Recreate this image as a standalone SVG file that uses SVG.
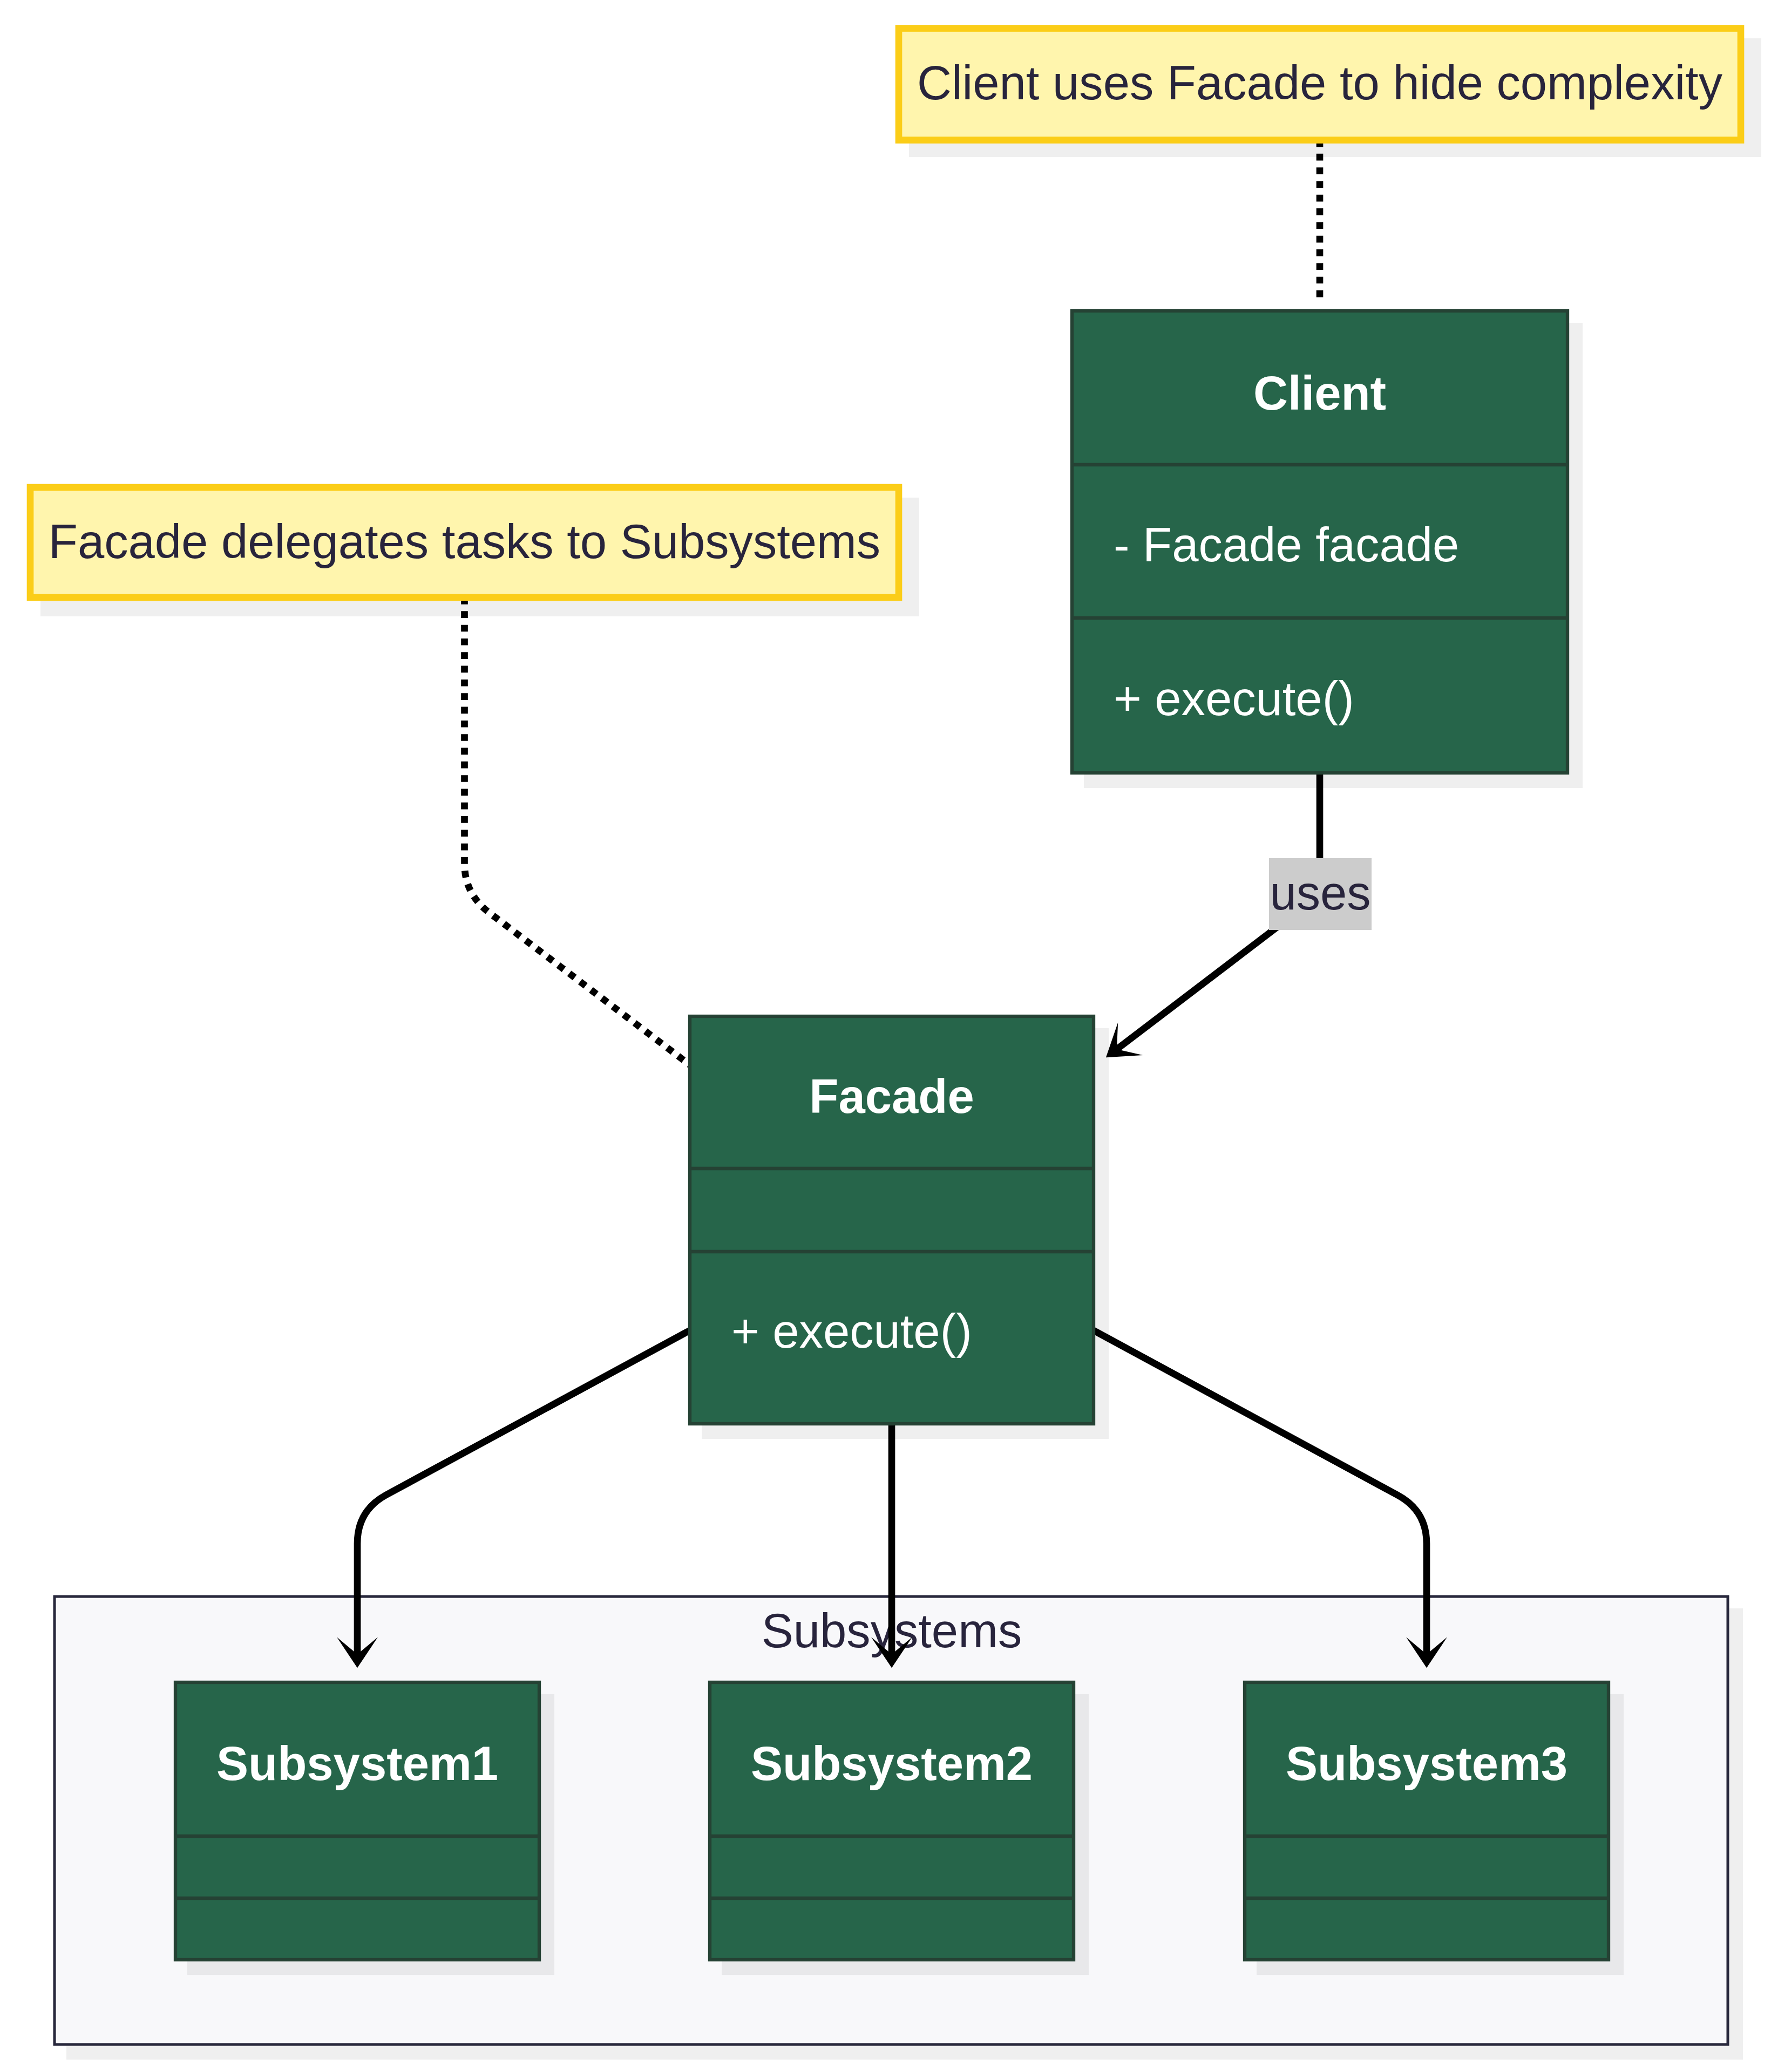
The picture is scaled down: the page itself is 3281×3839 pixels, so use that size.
<svg xmlns="http://www.w3.org/2000/svg" width="3281" height="3839" viewBox="0 0 3281 3839">
<style>
  .shadow { fill: #000; fill-opacity: 0.063; stroke: none; }
  .cls { fill: #26654a; stroke: #254234; stroke-width: 6.33; }
  .div { stroke: #254234; stroke-width: 6.33; }
  .note { fill: #fff5ad; stroke: #fbcd18; stroke-width: 12.66; }
  .cluster { fill: #f8f8fa; stroke: #28283c; stroke-width: 5; }
  .title { font-family: "Liberation Sans", Arial, sans-serif; font-size: 88.6px; font-weight: bold; fill: #ffffff; text-anchor: middle; }
  .member { font-family: "Liberation Sans", Arial, sans-serif; font-size: 88.6px; fill: #ffffff; }
  .ntext { font-family: "Liberation Sans", Arial, sans-serif; font-size: 88.6px; fill: #28243c; text-anchor: middle; }
  .edge { fill: none; stroke: #000; stroke-width: 12.66; }
  .dotted { fill: none; stroke: #000; stroke-width: 12.66; stroke-dasharray: 12.66 12.66; }
  .lbl { fill: #cccccc; }
</style>
<defs>
  <marker id="arrow" viewBox="0 0 20 14" refX="14" refY="7" markerWidth="126.6" markerHeight="88.6" markerUnits="userSpaceOnUse" orient="auto">
    <path d="M 18,7 L 9,13 L 14,7 L 9,1 Z" fill="#000"/>
  </marker>
</defs>
<rect width="3281" height="3839" fill="#ffffff"/>

<g id="cluster-Subsystems">
  <rect class="shadow" x="123" y="2980" width="3106" height="836"/>
  <rect class="cluster" x="101" y="2958" width="3100" height="830"/>
  <text class="ntext" x="1652" y="3052">Subsystems</text>
</g>

<g id="shadows">
  <rect class="shadow" x="1684" y="71" width="1579" height="220"/>
  <rect class="shadow" x="75" y="922" width="1628" height="220"/>
  <rect class="shadow" x="2008" y="598" width="924" height="862"/>
  <rect class="shadow" x="1300" y="1905" width="754" height="761"/>
  <rect class="shadow" x="347" y="3139" width="680" height="520"/>
  <rect class="shadow" x="1337" y="3139" width="680" height="520"/>
  <rect class="shadow" x="2328" y="3139" width="680" height="520"/>
</g>

<g id="connectors">
  <path class="dotted" d="M 2445 259.5 L 2445 553"/>
  <path class="dotted" d="M 860.5 1107 L 860.5 1600 Q 860.5 1655 905 1690 L 1278 1973"/>
  <path class="edge" d="M 2445 1432 L 2445 1640 Q 2445 1658 2430 1669 L 2069 1944" marker-end="url(#arrow)"/>
  <path class="edge" d="M 1278 2465 L 715 2770 Q 662 2799 662 2860 L 662 3065" marker-end="url(#arrow)"/>
  <path class="edge" d="M 1652 2638 L 1652 3065" marker-end="url(#arrow)"/>
  <path class="edge" d="M 2026 2465 L 2589 2770 Q 2643 2799 2643 2860 L 2643 3065" marker-end="url(#arrow)"/>
  <rect class="lbl" x="2351" y="1590" width="190" height="133"/>
  <text class="ntext" x="2446" y="1685">uses</text>
</g>

<g id="note-client">
  <rect class="note" x="1665" y="52.5" width="1560" height="207"/>
  <text class="ntext" x="2445" y="184">Client uses Facade to hide complexity</text>
</g>

<g id="note-facade">
  <rect class="note" x="56" y="903" width="1609" height="204"/>
  <text class="ntext" x="860.5" y="1034">Facade delegates tasks to Subsystems</text>
</g>

<g id="Client">
  <rect class="cls" x="1986" y="576" width="918" height="856"/>
  <line class="div" x1="1986" y1="861" x2="2904" y2="861"/>
  <line class="div" x1="1986" y1="1145" x2="2904" y2="1145"/>
  <text class="title" x="2445" y="759">Client</text>
  <text class="member" x="2063" y="1040">- Facade facade</text>
  <text class="member" x="2063" y="1325">+ execute()</text>
</g>

<g id="Facade">
  <rect class="cls" x="1278" y="1883" width="748" height="755"/>
  <line class="div" x1="1278" y1="2165" x2="2026" y2="2165"/>
  <line class="div" x1="1278" y1="2319" x2="2026" y2="2319"/>
  <text class="title" x="1652" y="2062">Facade</text>
  <text class="member" x="1355" y="2497">+ execute()</text>
</g>

<g id="Subsystem1">
  <rect class="cls" x="325" y="3117" width="674" height="514"/>
  <line class="div" x1="325" y1="3402" x2="999" y2="3402"/>
  <line class="div" x1="325" y1="3517" x2="999" y2="3517"/>
  <text class="title" x="662" y="3298">Subsystem1</text>
</g>

<g id="Subsystem2">
  <rect class="cls" x="1315" y="3117" width="674" height="514"/>
  <line class="div" x1="1315" y1="3402" x2="1989" y2="3402"/>
  <line class="div" x1="1315" y1="3517" x2="1989" y2="3517"/>
  <text class="title" x="1652" y="3298">Subsystem2</text>
</g>

<g id="Subsystem3">
  <rect class="cls" x="2306" y="3117" width="674" height="514"/>
  <line class="div" x1="2306" y1="3402" x2="2980" y2="3402"/>
  <line class="div" x1="2306" y1="3517" x2="2980" y2="3517"/>
  <text class="title" x="2643" y="3298">Subsystem3</text>
</g>
</svg>
